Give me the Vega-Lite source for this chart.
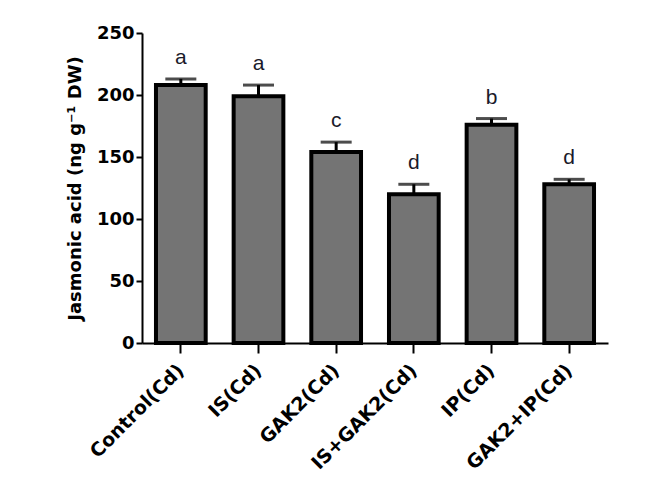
{
  "$schema": "https://vega.github.io/schema/vega-lite/v6.json",
  "autosize": "none",
  "width": 466,
  "height": 310,
  "padding": {"left": 142, "top": 33, "right": 61, "bottom": 159},
  "background": "white",
  "config": {
    "view": {"stroke": null},
    "font": "Liberation Sans",
    "axis": {"grid": false, "domainColor": "black", "tickColor": "black", "labelColor": "black", "titleColor": "black", "labelFont": "DejaVu Sans", "titleFont": "DejaVu Sans"}
  },
  "data": {
    "values": [
      {"group": "Control(Cd)", "value": 208, "upper": 213, "letter": "a"},
      {"group": "IS(Cd)", "value": 199, "upper": 208, "letter": "a"},
      {"group": "GAK2(Cd)", "value": 154, "upper": 162, "letter": "c"},
      {"group": "IS+GAK2(Cd)", "value": 120, "upper": 128, "letter": "d"},
      {"group": "IP(Cd)", "value": 176, "upper": 181, "letter": "b"},
      {"group": "GAK2+IP(Cd)", "value": 128, "upper": 132, "letter": "d"}
    ]
  },
  "encoding": {
    "x": {
      "field": "group", "type": "nominal", "sort": null,
      "scale": {"paddingInner": 0.36, "paddingOuter": 0.18},
      "axis": {"title": null, "labelAngle": -45, "labelAlign": "right", "labelBaseline": "middle", "labelFontSize": 19, "labelFontWeight": "bold", "labelPadding": 14, "tickSize": 10, "tickWidth": 2, "domainWidth": 2}
    }
  },
  "layer": [
    {
      "mark": {"type": "rule", "color": "black", "strokeWidth": 3},
      "encoding": {
        "y": {"field": "value", "type": "quantitative"},
        "y2": {"field": "upper"}
      }
    },
    {
      "mark": {"type": "tick", "color": "black", "size": 31, "thickness": 3, "orient": "horizontal"},
      "encoding": {"y": {"field": "upper", "type": "quantitative"}}
    },
    {
      "mark": {"type": "bar", "fill": "#747474", "stroke": "black", "strokeWidth": 4},
      "encoding": {
        "y": {
          "field": "value", "type": "quantitative",
          "scale": {"domain": [0, 250], "nice": false},
          "axis": {"title": "Jasmonic acid (ng g⁻¹ DW)", "values": [0, 50, 100, 150, 200, 250], "labelFontSize": 18, "labelFontWeight": "bold", "labelPadding": 2, "tickSize": 6, "tickWidth": 2, "domainWidth": 2, "titleFontSize": 18, "titleFontWeight": "bold", "titlePadding": 12}
        }
      }
    },
    {
      "mark": {"type": "text", "fontSize": 21, "baseline": "alphabetic", "dy": -15, "color": "#1a1a2a"},
      "encoding": {
        "y": {"field": "upper", "type": "quantitative"},
        "text": {"field": "letter"}
      }
    }
  ]
}
